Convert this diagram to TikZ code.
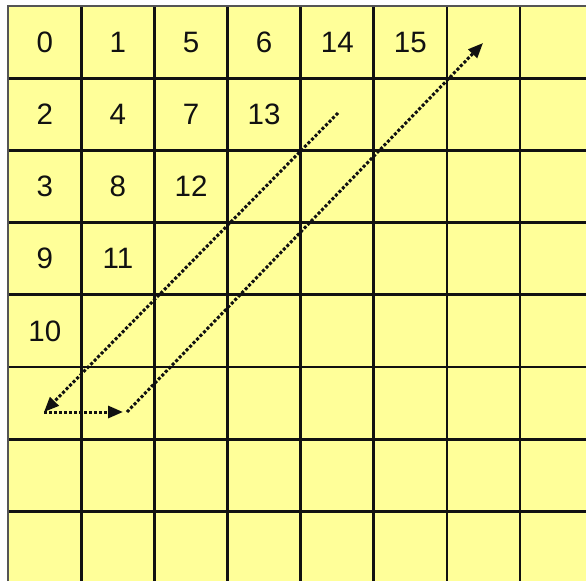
\documentclass[tikz,border=0pt]{standalone}
\usepackage{fontspec}
\setmainfont{Liberation Sans}
\usetikzlibrary{arrows.meta}
\definecolor{cellbg}{HTML}{FFFF99}
\definecolor{ink}   {HTML}{111111}
\definecolor{edge}  {HTML}{555555}

\begin{document}
\begin{tikzpicture}[
    x=1pt, y=-1pt,
    %% --- semantic styles ---
    gridline/.style   = {draw=ink, line width=2.8pt},
    borderline/.style = {draw=edge, line width=1.8pt},
    coefflabel/.style = {font=\fontsize{29.5}{30}\selectfont, text=ink,
                         inner sep=0pt},
    scanpath/.style   = {draw=ink, line width=3pt,
                         dash pattern=on 3pt off 2pt,
                         -{Triangle[length=15pt, width=12pt]}}
]
\useasboundingbox (0,0) rectangle (586,581);

%% =====================================================
%% Block grid
%% =====================================================
\fill[cellbg] (8.3,6) rectangle (586,581);
\foreach \i in {1,...,7} {
    \draw[gridline] ({8.3+73.1*\i},6) -- ({8.3+73.1*\i},581);
    \draw[gridline] (8.3,{6+72.2*\i}) -- (586,{6+72.2*\i});
}
\draw[borderline] (8.3,581) -- (8.3,6) -- (586,6);

%% =====================================================
%% Scan order numbers
%% =====================================================
\foreach \n/\c/\r in {0/0/0, 1/1/0, 5/2/0, 6/3/0, 14/4/0, 15/5/0,
                      2/0/1, 4/1/1, 7/2/1, 13/3/1,
                      3/0/2, 8/1/2, 12/2/2,
                      9/0/3, 11/1/3,
                      10/0/4}
    \node[coefflabel] (n\n) at ({8.3+73.1*(\c+0.5)}, {6+72.2*(\r+0.5)}) {\n};

%% =====================================================
%% Zig-zag path
%% =====================================================
\coordinate (scanstart)  at (338,113);
\coordinate (scancorner) at (44,412);
\coordinate (scanturn)   at (127,412);
\coordinate (scanend)    at (483,43);

\draw[scanpath] (scanstart) -- (scancorner);
\draw[scanpath, shorten >=4pt] (scancorner) -- (scanturn);
\draw[scanpath] (scanturn) -- (scanend);

\end{tikzpicture}
\end{document}
